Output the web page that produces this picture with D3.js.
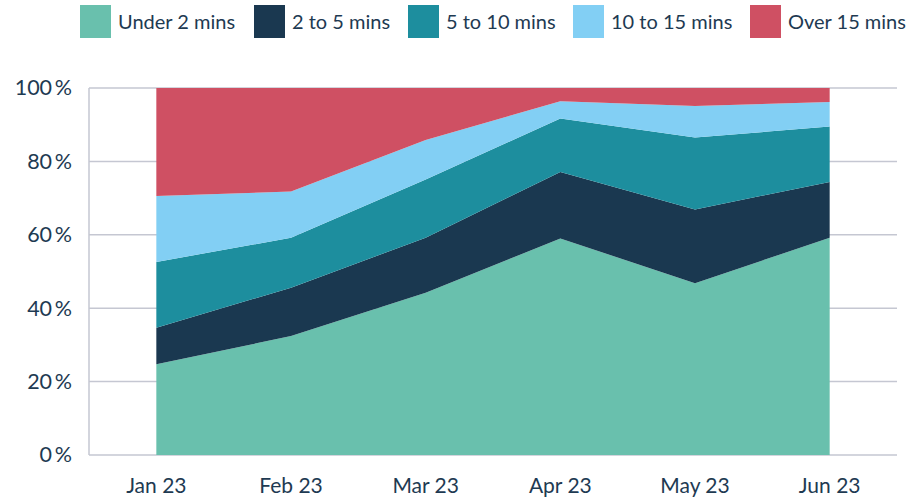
<!DOCTYPE html>
<html>
<head>
<meta charset="utf-8">
<script src="https://cdn.jsdelivr.net/npm/d3@7"></script>
<style>
  body { margin: 0; background: #fff; }
  text { font-family: Lato, "Noto Sans", sans-serif; fill: #1e3a52; }
</style>
</head>
<body>
<div id="chart"></div>
<script>
// chart data
var months = ["Jan 23", "Feb 23", "Mar 23", "Apr 23", "May 23", "Jun 23"];
var seriesNames = ["Under 2 mins", "2 to 5 mins", "5 to 10 mins", "10 to 15 mins", "Over 15 mins"];
var under2 = [24.7, 32.4, 44.2, 59.0, 46.8, 59.2];
var twoToFive = [10.0, 13.2, 15.0, 18.1, 20.1, 15.2];
var fiveToTen = [17.9, 13.6, 15.9, 14.6, 19.6, 15.1];
var tenToFifteen = [18.0, 12.6, 10.7, 4.7, 8.6, 6.7];
var over15 = [29.4, 28.2, 14.2, 3.6, 4.9, 3.8];
var yTicks = [0, 20, 40, 60, 80, 100];

var colors = ["#69c0ad", "#1a3850", "#1d8e9e", "#82cff4", "#cf5063"];

var svgWidth = 908;
var svgHeight = 501;

var margin = { top: 88, right: 11, bottom: 46, left: 89 };
var width = svgWidth - margin.left - margin.right;
var height = svgHeight - margin.top - margin.bottom;

var svg = d3.select("#chart")
    .append("svg")
    .attr("width", svgWidth)
    .attr("height", svgHeight);

var chartGroup = svg.append("g")
    .attr("transform", `translate(${margin.left}, ${margin.top})`);

// build table for stacking
var allSeries = [under2, twoToFive, fiveToTen, tenToFifteen, over15];
var table = months.map(function (m, i) {
    var row = { month: m };
    seriesNames.forEach(function (s, j) { row[s] = allSeries[j][i]; });
    return row;
});

var stacked = d3.stack().keys(seriesNames)(table);

var xScale = d3.scaleBand()
    .domain(months)
    .range([0, width])
    .padding(0);

var yScale = d3.scaleLinear()
    .domain([0, 100])
    .range([height, 0]);

// gridlines
chartGroup.selectAll(".grid")
    .data(yTicks)
    .enter()
    .append("line")
    .attr("x1", 0)
    .attr("x2", width)
    .attr("y1", d => yScale(d))
    .attr("y2", d => yScale(d))
    .attr("stroke", "#c5c7d2")
    .attr("stroke-width", 1.5);

chartGroup.append("line")
    .attr("x1", 0).attr("x2", 0)
    .attr("y1", 0).attr("y2", height)
    .attr("stroke", "#c5c7d2")
    .attr("stroke-width", 1.5);

var area = d3.area()
    .x(d => xScale(d.data.month) + xScale.bandwidth() / 2)
    .y0(d => yScale(d[0]))
    .y1(d => yScale(d[1]));

chartGroup.selectAll(".layer")
    .data(stacked)
    .enter()
    .append("path")
    .attr("d", area)
    .attr("fill", (d, i) => colors[i]);

// y axis labels
var leftAxis = d3.axisLeft(yScale)
    .tickValues(yTicks)
    .tickSize(0)
    .tickPadding(17)
    .tickFormat(d => d + "\u2009%");

var yAxis = chartGroup.append("g").call(leftAxis);
yAxis.select(".domain").remove();
yAxis.selectAll("text")
    .attr("font-size", "21.5px")
    .attr("fill", "#1e3a52")
    .style("font-family", "Lato, sans-serif");

// x axis labels
var bottomAxis = d3.axisBottom(xScale)
    .tickSize(0)
    .tickPadding(23);

var xAxis = chartGroup.append("g")
    .attr("transform", `translate(0, ${height})`)
    .call(bottomAxis);
xAxis.select(".domain").remove();
xAxis.selectAll("text")
    .attr("font-size", "21px")
    .attr("fill", "#1e3a52")
    .style("font-family", "Lato, sans-serif");

// legend
var legendX = [80, 254, 408, 573, 750];
var legend = svg.append("g");
var items = legend.selectAll("g")
    .data(seriesNames)
    .enter()
    .append("g")
    .attr("transform", (d, i) => `translate(${legendX[i]}, 5)`);

items.append("rect")
    .attr("width", 31)
    .attr("height", 33)
    .attr("fill", (d, i) => colors[i]);

items.append("text")
    .attr("x", 38)
    .attr("y", 17)
    .attr("dy", "0.35em")
    .attr("font-size", "20px")
    .text(d => d);
</script>
</body>
</html>
